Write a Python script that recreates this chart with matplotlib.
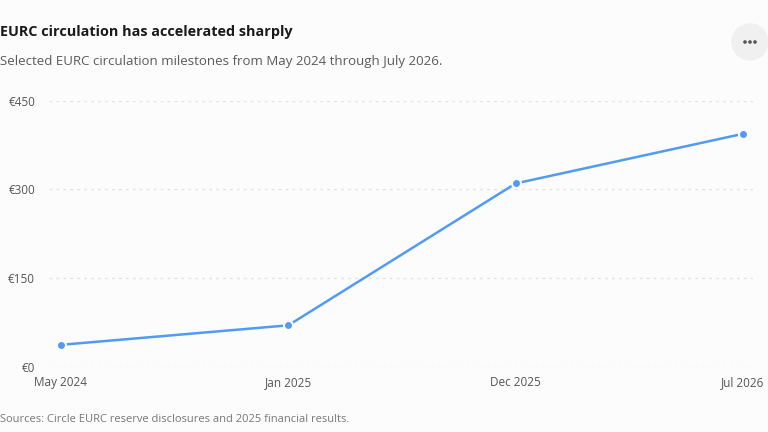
import matplotlib
matplotlib.use("Agg")
import matplotlib.pyplot as plt
from matplotlib.patches import Ellipse

categories = ["May 2024", "Jan 2025", "Dec 2025", "Jul 2026"]
values = [37, 70, 310, 394]
yticks = [0, 150, 300, 450]
ytick_labels = ["€0", "€150", "€300", "€450"]

title = "EURC circulation has accelerated sharply"
subtitle = "Selected EURC circulation milestones from May 2024 through July 2026."
source = "Sources: Circle EURC reserve disclosures and 2025 financial results."

plt.rcParams['font.family'] = ['Open Sans', 'DejaVu Sans']

W, H = 768, 432
bg = "#fcfcfc"
fig = plt.figure(figsize=(W / 100, H / 100), dpi=100, facecolor=bg)

ax = fig.add_axes([49 / W, 1 - 366.7 / H, (753 - 49) / W, (366.7 - 100.7) / H])
ax.set_facecolor(bg)
x = list(range(len(categories)))
ax.plot(x, values, color="#519BF3", lw=1.8, zorder=3, clip_on=False)
ax.plot(x, values, 'o', ms=6.5, mfc="#519BF3", mec=bg, mew=1.5, zorder=4, clip_on=False)

x0 = (49 - 61) / ((743 - 61) / 3)
x1 = 3 + (753 - 743) / ((743 - 61) / 3)
ax.set_xlim(x0, x1)
ax.set_ylim(0, 450)
ax.set_yticks(yticks)
ax.set_yticklabels(ytick_labels)
ax.set_xticks(x)
ax.set_xticklabels(categories)
for s in ax.spines.values():
    s.set_visible(False)
ax.tick_params(axis='both', length=0, labelsize=8.5, labelcolor="#555555")
ax.tick_params(axis='y', pad=10)
ax.tick_params(axis='x', pad=7)
ax.grid(axis='y', color="#e3e3e3", lw=1, linestyle=(0, (2, 3)))
ax.set_axisbelow(True)

fig.text(0 / W, 1 - 32 / H, title, fontsize=10.4, fontweight='bold', color="#1a1a1a", va='center', ha='left')
fig.text(0 / W, 1 - 62 / H, subtitle, fontsize=9.5, color="#5a5a5a", va='center', ha='left')
fig.text(0 / W, 1 - 420 / H, source, fontsize=8, color="#777777", va='center', ha='left')

# menu button
circ = Ellipse((750 / W, 1 - 42 / H), 36 / W, 36 / H, transform=fig.transFigure, color="#f0f0f0")
fig.patches.append(circ)
for dx in (-5, 0, 5):
    dot = Ellipse(((750 + dx) / W, 1 - 42 / H), 2.2 / W, 2.2 / H, transform=fig.transFigure, color="#555555")
    fig.patches.append(dot)

fig.savefig("out.png", dpi=100, facecolor=bg)
